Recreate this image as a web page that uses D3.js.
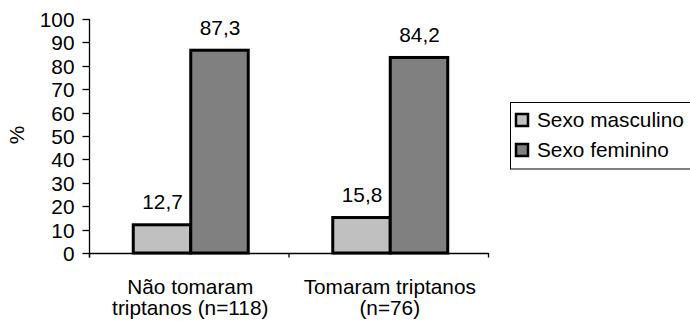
<!DOCTYPE html>
<html><head><meta charset="utf-8">
<script src="https://cdn.jsdelivr.net/npm/d3@7"></script>
<style>
html,body{margin:0;padding:0;background:#fff;}
svg{display:block;font-family:Arial,"Liberation Sans",sans-serif;}
</style></head>
<body>
<svg id="chart" width="690" height="321"></svg>
<script>
const categories = [["Não tomaram", "triptanos (n=118)"], ["Tomaram triptanos", "(n=76)"]];
const categoryKeys = ["nao", "sim"];
const seriesNames = ["Sexo masculino", "Sexo feminino"];
const seriesColors = ["#C0C0C0", "#808080"];
const masculino = [12.7, 15.8];
const feminino = [87.3, 84.2];
const yTicks = [0, 10, 20, 30, 40, 50, 60, 70, 80, 90, 100];
const yLabel = "%";

(function () {
const seriesValues = [masculino, feminino];
const svg = d3.select("#chart");
const fs = 20.8;
const pLeft = 89.5, pRight = 488.5, pTop = 19, pBottom = 253;

const y = d3.scaleLinear().domain([0, 100]).range([pBottom, pTop]);
const x0 = d3.scaleBand().domain(categoryKeys).range([pLeft, pRight]).paddingInner(0).paddingOuter(0);
const x1 = d3.scaleBand().domain(seriesNames).range([0, x0.bandwidth()]).paddingInner(0).paddingOuter(0.735);

const fmt = v => d3.format(".1f")(v).replace(".", ",");

// bars
const g = svg.append("g");
categoryKeys.forEach((k, ci) => {
  seriesNames.forEach((s, si) => {
    const v = seriesValues[si][ci];
    const bx = x0(k) + x1(s);
    g.append("rect")
      .attr("x", bx + 1.5).attr("y", y(v) + 1.5)
      .attr("width", x1.bandwidth()).attr("height", y(0) - y(v) - 1.5)
      .attr("fill", seriesColors[si]).attr("stroke", "#000").attr("stroke-width", 3);
    g.append("text")
      .attr("x", bx + x1.bandwidth() / 2 + 2).attr("y", y(v) - 14)
      .attr("text-anchor", "middle").attr("font-size", fs).attr("fill", "#000")
      .text(fmt(v));
  });
});

// y axis
const yAxis = svg.append("g");
yAxis.append("line").attr("x1", pLeft).attr("x2", pLeft).attr("y1", y(100)).attr("y2", pBottom + 4.5)
  .attr("stroke", "#000").attr("stroke-width", 1.3);
yTicks.forEach(t => {
  const ty = Math.round(y(t)) + 0.5;
  yAxis.append("line").attr("x1", pLeft - 7).attr("x2", pLeft).attr("y1", ty).attr("y2", ty)
    .attr("stroke", "#000").attr("stroke-width", 1.3);
  yAxis.append("text").attr("x", 74.5).attr("y", ty).attr("dy", "0.36em")
    .attr("text-anchor", "end").attr("font-size", fs).attr("fill", "#000").text(t);
});

// x axis
const xAxis = svg.append("g");
xAxis.append("line").attr("x1", pLeft).attr("x2", pRight).attr("y1", pBottom + 0.5).attr("y2", pBottom + 0.5)
  .attr("stroke", "#000").attr("stroke-width", 1.3);
[pLeft, x0(categoryKeys[1]), pRight].forEach(tx => {
  xAxis.append("line").attr("x1", tx).attr("x2", tx).attr("y1", pBottom).attr("y2", pBottom + 4.5)
    .attr("stroke", "#000").attr("stroke-width", 1.3);
});
categoryKeys.forEach((k, ci) => {
  const t = xAxis.append("text").attr("text-anchor", "middle").attr("font-size", fs).attr("fill", "#000");
  categories[ci].forEach((line, li) => {
    t.append("tspan").attr("x", x0(k) + x0.bandwidth() / 2 + 1).attr("y", 293.5 + li * 21.5).text(line);
  });
});

// y label
svg.append("text").attr("transform", "translate(24,135) rotate(-90)")
  .attr("text-anchor", "middle").attr("font-size", fs).attr("fill", "#000").text(yLabel);

// legend
const lg = svg.append("g");
lg.append("rect").attr("x", 510.5).attr("y", 102.5).attr("width", 190).attr("height", 66.5)
  .attr("fill", "none").attr("stroke", "#000").attr("stroke-width", 1);
seriesNames.forEach((s, i) => {
  const cy = 120 + i * 30;
  lg.append("rect").attr("x", 516).attr("y", cy - 6).attr("width", 12).attr("height", 12)
    .attr("fill", seriesColors[i]).attr("stroke", "#000").attr("stroke-width", 2.5);
  lg.append("text").attr("x", 537).attr("y", cy + 7).attr("font-size", fs).attr("fill", "#000").text(s);
});
})();
</script>
</body></html>
